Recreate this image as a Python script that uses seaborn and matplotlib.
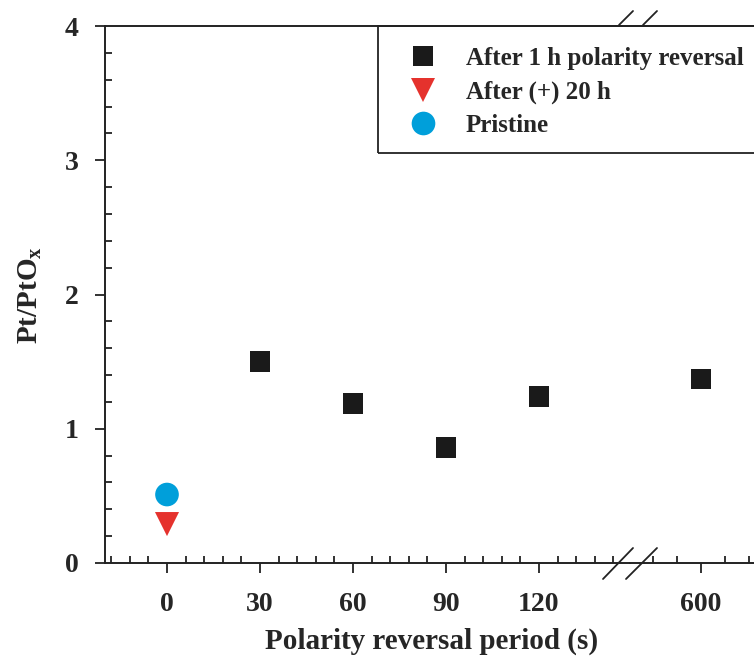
import numpy as np
import pandas as pd
import matplotlib
matplotlib.use("Agg")
import matplotlib.pyplot as plt
from matplotlib.ticker import MultipleLocator
from matplotlib.lines import Line2D
from matplotlib.patches import Rectangle
import seaborn as sns

# ---- data ----
periods_reversal = [30, 60, 90, 120, 600]
ratio_reversal = [1.50, 1.19, 0.86, 1.24, 1.37]
periods_20h = [0]
ratio_20h = [0.29]
periods_pristine = [0]
ratio_pristine = [0.51]
labels = ["After 1 h polarity reversal", "After (+) 20 h", "Pristine"]
left_xticks = [0, 30, 60, 90, 120]
right_xticks = [600]
yticks = [0, 1, 2, 3, 4]

colors = {labels[0]: "#1a1a1a", labels[1]: "#e5322d", labels[2]: "#009fda"}
markers = {labels[0]: "s", labels[1]: "v", labels[2]: "o"}
sizes = {labels[0]: 225, labels[1]: 300, labels[2]: 290}

df = pd.concat([
    pd.DataFrame({"period": periods_reversal, "ratio": ratio_reversal, "condition": labels[0]}),
    pd.DataFrame({"period": periods_20h, "ratio": ratio_20h, "condition": labels[1]}),
    pd.DataFrame({"period": periods_pristine, "ratio": ratio_pristine, "condition": labels[2]}),
], ignore_index=True)

sns.set_theme(style="ticks")
plt.rcParams["font.family"] = ["Liberation Serif", "DejaVu Serif"]
plt.rcParams["font.weight"] = "bold"
plt.rcParams["mathtext.fontset"] = "custom"
plt.rcParams["mathtext.rm"] = "Liberation Serif:bold"
plt.rcParams["mathtext.bf"] = "Liberation Serif:bold"
plt.rcParams["mathtext.it"] = "Liberation Serif:bold"

W, H = 754, 672
fig = plt.figure(figsize=(W / 100, H / 100), dpi=100)

x_left, x_join, x_right = 105, 630, 760
y_top, y_bot = 26, 563
axL = fig.add_axes([x_left / W, (H - y_bot) / H, (x_join - x_left) / W, (y_bot - y_top) / H])
axR = fig.add_axes([x_join / W, (H - y_bot) / H, (x_right - x_join) / W, (y_bot - y_top) / H], sharey=axL)

left_df = df[df["period"] <= 150]
right_df = df[df["period"] >= 500]
for ax, d in ((axL, left_df), (axR, right_df)):
    sns.scatterplot(data=d, x="period", y="ratio", hue="condition", style="condition",
                    size="condition", sizes=sizes, markers=markers, palette=colors,
                    linewidth=0, legend=False, ax=ax, zorder=5, clip_on=False)
    ax.set_xlabel("")
    ax.set_ylabel("")
    for s in ax.spines.values():
        s.set_linewidth(1.4)
        s.set_color("#222222")

axL.set_xlim(-20, (x_join - 167) / 3.1)
axL.set_ylim(0, 4)
axR.set_xlim(600 - (701 - x_join) / 4.0, 600 + (x_right - 701) / 4.0)

axL.set_xticks(left_xticks)
axL.xaxis.set_minor_locator(MultipleLocator(6))
axL.set_yticks(yticks)
axL.yaxis.set_minor_locator(MultipleLocator(0.2))
axR.set_xticks(right_xticks)
axR.xaxis.set_minor_locator(MultipleLocator(6))

axL.spines["right"].set_visible(False)
axR.spines["left"].set_visible(False)
axR.tick_params(axis="y", which="both", left=False, labelleft=False)

for ax in (axL, axR):
    ax.tick_params(which="major", direction="out", length=7, width=1.3, labelsize=20,
                   color="#222222", pad=12)
    ax.tick_params(which="minor", direction="in", length=5, width=1.3, color="#222222")
    ax.tick_params(axis="x", which="major", pad=14)
    for lab in ax.get_xticklabels() + ax.get_yticklabels():
        lab.set_fontweight("bold")

axL.set_ylabel(r"Pt/PtO$_{\mathrm{x}}$", fontsize=21, fontweight="bold", labelpad=15)
fig.text(432 / W, (H - 641) / H, "Polarity reversal period (s)", fontsize=21,
         fontweight="bold", ha="center", va="center")

# axis-break marks
def seg(x0, y0, x1, y1):
    fig.add_artist(Line2D([x0 / W, x1 / W], [(H - y0) / H, (H - y1) / H],
                          transform=fig.transFigure, color="#222222", lw=1.3))

seg(603, 579, 633, 548)
seg(626, 579, 657, 548)
seg(619, 25, 633, 11)
seg(643, 25, 657, 11)

# legend
fig.add_artist(Rectangle((378 / W, (H - 153) / H), (W + 10 - 378) / W, (153 - 26) / H,
                         transform=fig.transFigure, fill=False, lw=1.3, edgecolor="#222222"))
handles = [Line2D([], [], ls="", marker=markers[l], color=colors[l], markeredgewidth=0,
                  markersize=np.sqrt(sizes[l])) for l in labels]
fig.legend(handles, labels, loc="upper left", bbox_to_anchor=(408 / W, (H - 47) / H),
           frameon=False, prop={"size": 18, "weight": "bold"}, handlelength=1.2,
           handletextpad=1.12, labelspacing=0.41, borderpad=0, borderaxespad=0)

fig.savefig("out.png", dpi=100)
